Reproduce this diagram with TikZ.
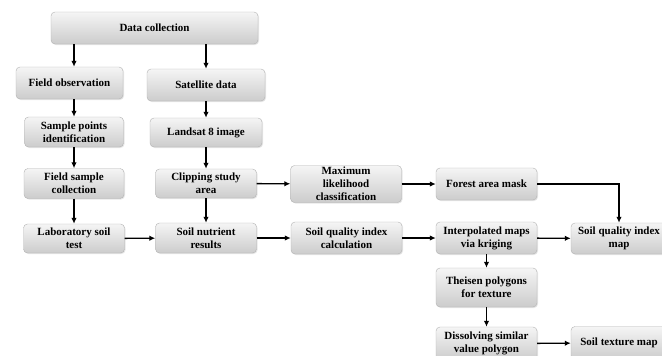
\documentclass[tikz,border=0pt]{standalone}
\usepackage{fontspec}
\setmainfont{Liberation Serif}
\usetikzlibrary{arrows.meta, positioning, shadows}

\begin{document}
\begin{tikzpicture}[x=1pt, y=-1pt,
        every node/.style={font=\fontsize{11}{13}\selectfont\bfseries},
        procbox/.style={draw=gray!60, rounded corners=4pt, top color=gray!8, bottom color=gray!40, align=center, inner sep=1pt, drop shadow={opacity=0.2, shadow xshift=1pt, shadow yshift=-1pt}},
        flow/.style={-{Latex[length=6pt, width=5.5pt]}, line width=1.4pt}]
            \useasboundingbox (0,0) rectangle (662,356);

            \node[procbox, minimum width=207pt, minimum height=32pt] (datacol) at (154.5,28) {Data collection};
            \node[procbox, minimum width=107pt, minimum height=32pt] (fieldobs) at (69.5,83) {Field observation};
            \node[procbox, minimum width=118pt, minimum height=32pt] (satellite) at (206,85) {Satellite data};
            \node[procbox, minimum width=99pt, minimum height=30pt] (samplept) at (74,132) {Sample points\\identification};
            \node[procbox, minimum width=112pt, minimum height=29pt] (landsat) at (206,132.5) {Landsat 8 image};
            \node[procbox, minimum width=100pt, minimum height=30pt] (fieldsample) at (74,183.5) {Field sample\\collection};
            \node[procbox, minimum width=101pt, minimum height=29pt] (clipping) at (206,183.5) {Clipping study\\area};
            \node[procbox, minimum width=111pt, minimum height=37pt] (maxlike) at (346,184) {Maximum\\likelihood\\classification};
            \node[procbox, minimum width=101pt, minimum height=29pt] (labtest) at (74,238.5) {Laboratory soil\\test};
            \node[procbox, minimum width=101pt, minimum height=30pt] (nutrient) at (206,238) {Soil nutrient\\results};
            \node[procbox, minimum width=111pt, minimum height=32pt] (sqicalc) at (346.5,238) {Soil quality index\\calculation};
            \node[procbox, minimum width=101pt, minimum height=32pt] (forest) at (486.5,184) {Forest area mask};
            \node[procbox, minimum width=101pt, minimum height=32pt] (interp) at (486.5,238) {Interpolated maps\\via kriging};
            \node[procbox, minimum width=96pt, minimum height=31pt] (sqimap) at (619,238.5) {Soil quality index\\map};
            \node[procbox, minimum width=101pt, minimum height=39pt] (theisen) at (486.5,287.5) {Theisen polygons\\for texture};
            \node[procbox, minimum width=101pt, minimum height=33pt] (dissolve) at (486.5,343.5) {Dissolving similar\\value polygon};
            \node[procbox, minimum width=96pt, minimum height=33pt] (texturemap) at (619,343) {Soil texture map};

            \draw[flow] (datacol.south -| samplept) -- (fieldobs.north -| samplept);
            \draw[flow] (datacol.south -| satellite) -- (satellite);
            \draw[flow] (fieldobs.south -| samplept) -- (samplept);
            \draw[flow] (samplept) -- (fieldsample);
            \draw[flow] (fieldsample) -- (labtest);
            \draw[flow] (satellite) -- (landsat);
            \draw[flow] (landsat) -- (clipping);
            \draw[flow] (clipping) -- (nutrient);
            \draw[flow] (clipping) -- (maxlike);
            \draw[flow] (maxlike) -- (forest);
            \draw[flow] (forest.east) -| (sqimap.north);
            \draw[flow] (labtest) -- (nutrient);
            \draw[flow] (nutrient) -- (sqicalc);
            \draw[flow] (sqicalc) -- (interp);
            \draw[flow] (interp) -- (sqimap);
            \draw[flow] (interp) -- (theisen);
            \draw[flow] (theisen) -- (dissolve);
            \draw[flow] (dissolve) -- (texturemap);
        \end{tikzpicture}
\end{document}
